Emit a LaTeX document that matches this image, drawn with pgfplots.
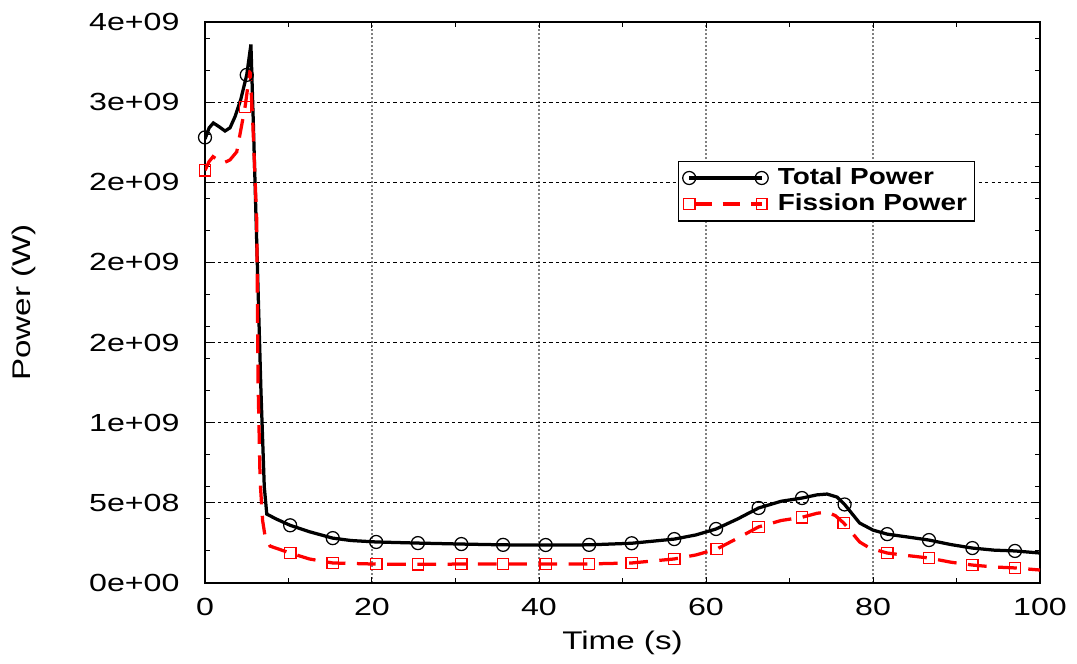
\documentclass[border=0pt]{standalone}
\usepackage{fontspec}
\setmainfont{Liberation Sans}
\newfontfamily\labfont[FakeStretch=1.3]{Liberation Sans}
\newfontfamily\legfont[FakeStretch=1.2]{Liberation Sans}
\usepackage{pgfplots}
\pgfplotsset{compat=1.18}

\newcommand\ticklab{\labfont\fontsize{9.9pt}{11pt}\selectfont}
\newcommand\axlab{\labfont\fontsize{10.2pt}{12pt}\selectfont}
\newcommand\leglab{\legfont\bfseries\fontsize{9.3pt}{10pt}\selectfont}

\begin{document}
\begin{tikzpicture}
\path[use as bounding box] (-82pt,-32pt) rectangle (348.8pt,233.2pt);
\begin{axis}[
  scale only axis, width=334pt, height=224.4pt,
  at={(0pt,0pt)}, anchor=south west,
  xmin=0, xmax=100, ymin=0, ymax=3.5e9,
  axis line style={line width=0.6pt},
  xtick={0,20,40,60,80,100}, xticklabels={0,20,40,60,80,100},
  minor xtick={10,30,50,70,90},
  ytick={0,5e8,1e9,1.5e9,2e9,2.5e9,3e9,3.5e9},
  yticklabels={0e+00,5e+08,1e+09,2e+09,2e+09,2e+09,3e+09,4e+09},
  minor ytick={2e8,4e8,6e8,8e8,1e9,1.2e9,1.4e9,1.6e9,1.8e9,2e9,2.2e9,2.4e9,2.6e9,2.8e9,3e9,3.2e9,3.4e9},
  scaled y ticks=false, scaled x ticks=false,
  tick align=inside, major tick length=2.4pt, minor tick length=2pt,
  tick style={black, line width=0.4pt},
  grid=major,
  x grid style={gray, line width=0.5pt, dash pattern=on 0.7pt off 0.9pt},
  y grid style={black, line width=0.4pt, dash pattern=on 1.3pt off 1.3pt},
  tick label style={font=\ticklab},
  xticklabel style={inner sep=0pt, yshift=-6pt},
  yticklabel style={inner sep=0pt, xshift=-10pt},
  xlabel={Time (s)}, ylabel={Power (W)},
  label style={font=\axlab},
  xlabel style={at={(axis description cs:0.5,-0.107)}, anchor=center},
  ylabel style={at={(axis description cs:-0.2168,0.5)}, anchor=center},
  legend style={at={(axis description cs:0.922,0.753)}, anchor=north east,
    draw=black, line width=0.5pt, inner xsep=1.3pt, inner ysep=1.5pt,
    row sep=0pt, column sep=2pt, font=\leglab, cells={anchor=west},
    nodes={inner xsep=1.6pt, inner ysep=1.1pt}},
]
% total power, line
\addplot[forget plot, black, line width=1.3pt] coordinates {
(0,2.77e9) (0.5,2.84e9) (1.0,2.87e9) (1.6,2.85e9) (2.4,2.82e9) (3.0,2.84e9)
(3.6,2.91e9) (4.3,3.02e9) (5.0,3.17e9) (5.5,3.36e9) (5.8,2.85e9) (6.1,2.3e9)
(6.7,1.2e9) (7.1,0.6e9) (7.4,0.43e9) (8.5,0.40e9) (10.2,0.36e9) (12.5,0.32e9)
(15.3,0.28e9) (17.5,0.265e9) (20.5,0.256e9) (25.5,0.249e9) (30.7,0.243e9)
(35.7,0.238e9) (40.8,0.237e9) (46,0.238e9) (51.1,0.248e9) (56.2,0.274e9)
(58.8,0.30e9) (61.2,0.337e9) (63.8,0.40e9) (66.3,0.468e9) (69,0.51e9)
(71.5,0.53e9) (73.3,0.55e9) (74.5,0.555e9) (75.7,0.536e9) (76.6,0.49e9)
(78.4,0.374e9) (80,0.33e9) (81.7,0.305e9) (84,0.288e9) (86.7,0.268e9)
(89.3,0.24e9) (91.9,0.218e9) (94.5,0.205e9) (97,0.20e9) (100,0.187e9)};
\addplot[forget plot, only marks, black, mark=o, mark size=2.6pt, mark options={line width=0.5pt}] coordinates {
(0,2.78e9) (5.0,3.17e9) (10.2,0.36e9) (15.3,0.28e9) (20.5,0.256e9) (25.5,0.249e9)
(30.7,0.243e9) (35.7,0.238e9) (40.8,0.237e9) (46,0.238e9) (51.1,0.248e9)
(56.2,0.274e9) (61.2,0.337e9) (66.3,0.468e9) (71.5,0.53e9) (76.6,0.49e9)
(81.7,0.305e9) (86.7,0.268e9) (91.9,0.218e9) (97,0.20e9)};
% fission power, line
\addplot[forget plot, red, line width=1.3pt, dash pattern=on 7.5pt off 4.6pt] coordinates {
(0,2.575e9) (0.5,2.63e9) (0.96,2.66e9) (1.5,2.64e9) (2.2,2.62e9) (3.0,2.64e9)
(3.8,2.69e9) (4.8,2.97e9) (5.4,3.2e9) (5.7,2.9e9) (6.2,2.26e9) (6.35,1.27e9)
(6.6,0.64e9) (6.9,0.39e9) (7.2,0.29e9) (7.8,0.23e9) (10.2,0.187e9) (12.5,0.15e9)
(15.3,0.125e9) (20.5,0.118e9) (25.5,0.117e9) (30.7,0.118e9) (35.7,0.118e9)
(40.8,0.118e9) (46,0.119e9) (51.1,0.125e9) (56.2,0.15e9) (58.8,0.175e9)
(61.3,0.212e9) (63.8,0.28e9) (66.3,0.35e9) (69,0.39e9) (71.5,0.41e9)
(73.3,0.435e9) (74.5,0.443e9) (75.5,0.42e9) (76.5,0.374e9) (78.4,0.256e9)
(79.6,0.218e9) (81.7,0.187e9) (84,0.172e9) (86.7,0.156e9) (89.3,0.13e9)
(91.9,0.112e9) (94.5,0.10e9) (97,0.094e9) (100,0.081e9)};
\addplot[forget plot, only marks, red, mark=square, mark size=2.3pt, mark options={line width=0.5pt, solid}] coordinates {
(0,2.575e9) (4.8,2.97e9) (10.2,0.187e9) (15.3,0.125e9) (20.5,0.118e9) (25.5,0.117e9)
(30.7,0.118e9) (35.7,0.118e9) (40.8,0.118e9) (46,0.119e9) (51.1,0.125e9)
(56.2,0.15e9) (61.3,0.212e9) (66.3,0.35e9) (71.5,0.41e9) (76.5,0.374e9)
(81.7,0.187e9) (86.7,0.156e9) (91.9,0.112e9) (97,0.094e9)};
% legend
\addlegendimage{legend image code/.code={
  \draw[black, line width=1.3pt] (0pt,0pt) -- (29pt,0pt);
  \draw[black, line width=0.5pt] (0pt,0pt) circle[radius=2.6pt] (29pt,0pt) circle[radius=2.6pt];}}
\addlegendentry{Total Power}
\addlegendimage{legend image code/.code={
  \draw[red, line width=1.3pt, dash pattern=on 7pt off 4.4pt, dash phase=-2pt] (0pt,0pt) -- (29pt,0pt);
  \draw[red, line width=0.5pt] (-2.3pt,-2.3pt) rectangle (2.3pt,2.3pt) (26.9pt,-2.1pt) rectangle (31.1pt,2.1pt);}}
\addlegendentry{Fission Power}
\end{axis}
\end{tikzpicture}
\end{document}
